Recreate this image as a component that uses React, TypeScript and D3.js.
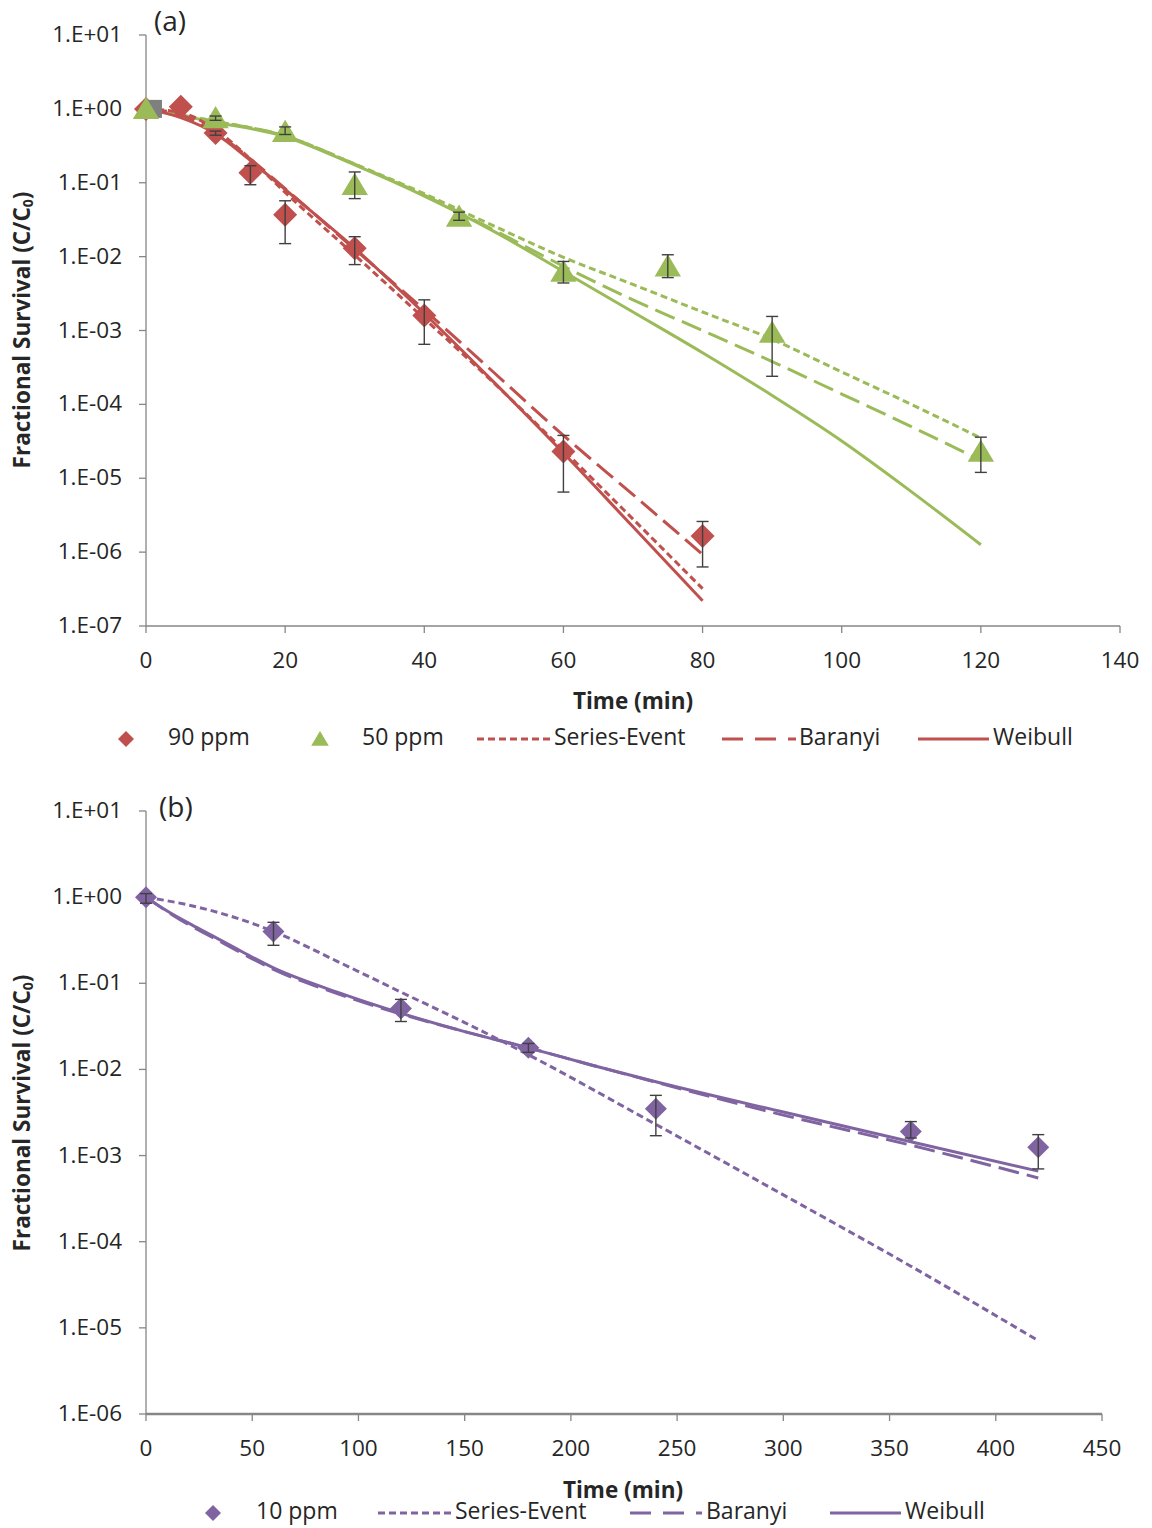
import React from "react";
import * as d3 from "d3";

// ---------- Panel (a) data ----------
const timeA90 = [0, 5, 10, 15, 20, 30, 40, 60, 80];
const surv90 = [1.0, 1.07, 0.47, 0.137, 0.037, 0.013, 0.0016, 2.3e-5, 1.65e-6];
const surv90Hi = [1.0, 1.07, 0.5, 0.17, 0.057, 0.0186, 0.0026, 3.8e-5, 2.6e-6];
const surv90Lo = [1.0, 1.07, 0.44, 0.094, 0.015, 0.0078, 6.5e-4, 6.5e-6, 6.3e-7];

const timeA50 = [0, 10, 20, 30, 45, 60, 75, 90, 120];
const surv50 = [1.0, 0.75, 0.49, 0.094, 0.035, 0.0063, 0.0074, 9.4e-4, 2.3e-5];
const surv50Hi = [1.0, 0.8, 0.57, 0.14, 0.04, 0.0086, 0.0106, 1.55e-3, 3.6e-5];
const surv50Lo = [1.0, 0.7, 0.45, 0.061, 0.031, 0.0044, 0.0052, 2.4e-4, 1.2e-5];

const refPointTime = [1];
const refPointSurv = [1.0];

const fitTime90 = [0, 5, 10, 15, 20, 30, 40, 50, 60, 70, 80];
const fit90Weibull = [1, 0.76, 0.46, 0.2, 0.081, 0.013, 1.7e-3, 2.0e-4, 2.2e-5, 2.2e-6, 2.2e-7];
const fit90SE = [1, 0.89, 0.52, 0.21, 0.074, 0.0105, 1.45e-3, 1.95e-4, 2.4e-5, 2.8e-6, 3.2e-7];
const fit90Baranyi = [1, 0.83, 0.48, 0.21, 0.083, 0.0126, 1.9e-3, 2.7e-4, 3.8e-5, 6.0e-6, 9.3e-7];

const fitTime50 = [0, 10, 20, 30, 40, 50, 60, 70, 80, 90, 100, 110, 120];
const fit50Weibull = [1, 0.66, 0.42, 0.174, 0.066, 0.022, 6.3e-3, 1.78e-3, 5.0e-4, 1.32e-4, 3.2e-5, 6.6e-6, 1.26e-6];
const fit50SE = [1, 0.68, 0.43, 0.18, 0.071, 0.026, 9.8e-3, 4.2e-3, 1.78e-3, 7.6e-4, 2.75e-4, 1.0e-4, 3.5e-5];
const fit50Baranyi = [1, 0.68, 0.43, 0.178, 0.068, 0.023, 7.4e-3, 2.6e-3, 1.0e-3, 3.8e-4, 1.38e-4, 5.0e-5, 1.74e-5];

const xTicksA = [0, 20, 40, 60, 80, 100, 120, 140];
const yTicksA = [1e1, 1e0, 1e-1, 1e-2, 1e-3, 1e-4, 1e-5, 1e-6, 1e-7];

// ---------- Panel (b) data ----------
const timeB10 = [0, 60, 120, 180, 240, 360, 420];
const surv10 = [1.0, 0.4, 0.051, 0.0178, 0.0035, 0.0019, 0.00125];
const surv10Hi = [1.1, 0.51, 0.065, 0.02, 0.005, 0.00248, 0.00175];
const surv10Lo = [0.85, 0.276, 0.036, 0.0158, 0.0017, 0.0016, 0.0007];

const fitTime10 = [0, 10, 20, 30, 45, 60, 90, 120, 150, 180, 210, 240, 300, 360, 420];
const fit10Weibull = [1, 0.69, 0.5, 0.37, 0.234, 0.151, 0.079, 0.045, 0.0275, 0.0178, 0.0112, 7.2e-3, 3.2e-3, 1.45e-3, 6.6e-4];
const fit10Baranyi = [1, 0.68, 0.48, 0.355, 0.224, 0.145, 0.076, 0.044, 0.0275, 0.0178, 0.0112, 7.1e-3, 2.95e-3, 1.32e-3, 5.5e-4];
const fitTime10SE = [0, 20, 40, 60, 90, 120, 150, 180, 240, 300, 360, 420];
const fit10SE = [1, 0.81, 0.6, 0.4, 0.18, 0.079, 0.035, 0.0148, 2.3e-3, 3.5e-4, 5.2e-5, 7.1e-6];

const xTicksB = [0, 50, 100, 150, 200, 250, 300, 350, 400, 450];
const yTicksB = [1e1, 1e0, 1e-1, 1e-2, 1e-3, 1e-4, 1e-5, 1e-6];

// ---------- styles ----------
const RED = "#C0504D";
const GREEN = "#9BBB59";
const PURPLE = "#8064A2";
const AXIS = "#868686";
const TEXT = "#262626";
const FONT = "'Open Sans', 'Noto Sans', sans-serif";
const DASH_SE = "7 4";
const DASH_BAR = "21 8";
const TICK_FS = 22.5;
const LEG_FS = 23;
const TITLE_FS = 22.5;

const fmtExp = (v: number) => {
  const e = Math.round(Math.log10(v));
  const sign = e < 0 ? "-" : "+";
  const a = Math.abs(e);
  return `1.E${sign}${a < 10 ? "0" + a : a}`;
};

type Pt = [number, number];
const zip = (xs: number[], ys: number[]): Pt[] => xs.map((x, i) => [x, ys[i]]);

function Diamond({ cx, cy, r, fill }: { cx: number; cy: number; r: number; fill: string }) {
  return <path d={`M${cx},${cy - r}L${cx + r},${cy}L${cx},${cy + r}L${cx - r},${cy}Z`} fill={fill} />;
}
function Triangle({ cx, cy, r, fill }: { cx: number; cy: number; r: number; fill: string }) {
  return <path d={`M${cx},${cy - r}L${cx + r * 1.1},${cy + r * 0.85}L${cx - r * 1.1},${cy + r * 0.85}Z`} fill={fill} />;
}

function ErrorBars({ xs, hi, lo, x, y }: any) {
  return (
    <g stroke="#404040" strokeWidth={1.4}>
      {xs.map((t: number, i: number) => {
        const y1 = y(hi[i]);
        const y2 = y(lo[i]);
        if (Math.abs(y1 - y2) < 3) return null;
        const cx = x(t);
        return (
          <g key={i}>
            <line x1={cx} x2={cx} y1={y1} y2={y2} />
            <line x1={cx - 6} x2={cx + 6} y1={y1} y2={y1} />
            <line x1={cx - 6} x2={cx + 6} y1={y2} y2={y2} />
          </g>
        );
      })}
    </g>
  );
}

function YTitle({ cx, cy }: { cx: number; cy: number }) {
  return (
    <text
      transform={`translate(${cx},${cy}) rotate(-90)`}
      textAnchor="middle"
      dominantBaseline="middle"
      fontFamily={FONT}
      fontWeight={700}
      fontSize={TITLE_FS}
      fill={TEXT}
    >
      Fractional Survival (C/C<tspan fontSize={14} dy={5}>0</tspan>
      <tspan dy={-5}>)</tspan>
    </text>
  );
}

function Axes({ x, y, xTicks, yTicks, xAxisWidth }: any) {
  const [x0, x1] = x.range();
  const [yb, yt] = y.range();
  return (
    <g>
      <line x1={x0} x2={x0} y1={yt} y2={yb} stroke={AXIS} strokeWidth={1.3} />
      <line x1={x0} x2={x1} y1={yb} y2={yb} stroke={AXIS} strokeWidth={xAxisWidth} />
      {yTicks.map((v: number) => (
        <g key={v}>
          <line x1={x0 - 7} x2={x0} y1={y(v)} y2={y(v)} stroke={AXIS} strokeWidth={1.3} />
          <text x={x0 - 24} y={y(v) + 1} textAnchor="end" dominantBaseline="middle" fontFamily={FONT} fontSize={TICK_FS} fill={TEXT}>
            {fmtExp(v)}
          </text>
        </g>
      ))}
      {xTicks.map((v: number) => (
        <g key={v}>
          <line x1={x(v)} x2={x(v)} y1={yb} y2={yb + 7} stroke={AXIS} strokeWidth={1.3} />
          <text x={x(v)} y={yb + 36} textAnchor="middle" dominantBaseline="middle" fontFamily={FONT} fontSize={TICK_FS} fill={TEXT}>
            {v}
          </text>
        </g>
      ))}
    </g>
  );
}

function LegendLine({ x1, x2, y, color, dash }: any) {
  return <line x1={x1} x2={x2} y1={y} y2={y} stroke={color} strokeWidth={3} strokeDasharray={dash} />;
}
function LegendText({ x, y, children }: any) {
  return (
    <text x={x} y={y} dominantBaseline="middle" fontFamily={FONT} fontSize={LEG_FS} fill={TEXT}>
      {children}
    </text>
  );
}

export default function App() {
  // Panel (a)
  const xA = d3.scaleLinear().domain([0, 140]).range([146, 1120]);
  const yA = d3.scaleLog().domain([1e-7, 10]).range([626, 35]);
  const lineA = d3
    .line<Pt>()
    .x((d) => xA(d[0]))
    .y((d) => yA(d[1]))
    .curve(d3.curveMonotoneX);

  // Panel (b)
  const xB = d3.scaleLinear().domain([0, 450]).range([146, 1102]);
  const yB = d3.scaleLog().domain([1e-6, 10]).range([1414, 811]);
  const lineB = d3
    .line<Pt>()
    .x((d) => xB(d[0]))
    .y((d) => yB(d[1]))
    .curve(d3.curveMonotoneX);

  const legA = 739;
  const legB = 1513;

  return (
    <svg width={1152} height={1528} style={{ position: "absolute", left: 0, top: 0, background: "#fff" }}>
      <rect width={1152} height={1528} fill="#fff" />

      {/* ---------------- Panel (a) ---------------- */}
      <Axes x={xA} y={yA} xTicks={xTicksA} yTicks={yTicksA} xAxisWidth={1.5} />
      <text x={154} y={31} fontFamily={FONT} fontSize={28} fill={TEXT}>(a)</text>
      <YTitle cx={24} cy={330} />
      <text x={633} y={703} textAnchor="middle" dominantBaseline="middle" fontFamily={FONT} fontWeight={700} fontSize={TITLE_FS} fill={TEXT}>
        Time (min)
      </text>

      <g fill="none" strokeWidth={3}>
        <path d={lineA(zip(fitTime50, fit50SE)) || ""} stroke={GREEN} strokeDasharray={DASH_SE} />
        <path d={lineA(zip(fitTime50, fit50Baranyi)) || ""} stroke={GREEN} strokeDasharray={DASH_BAR} />
        <path d={lineA(zip(fitTime50, fit50Weibull)) || ""} stroke={GREEN} />
        <path d={lineA(zip(fitTime90, fit90SE)) || ""} stroke={RED} strokeDasharray={DASH_SE} />
        <path d={lineA(zip(fitTime90, fit90Baranyi)) || ""} stroke={RED} strokeDasharray={DASH_BAR} />
        <path d={lineA(zip(fitTime90, fit90Weibull)) || ""} stroke={RED} />
      </g>

      {timeA90.map((t, i) => (
        <Diamond key={"r" + i} cx={xA(t)} cy={yA(surv90[i])} r={12} fill={RED} />
      ))}
      {refPointTime.map((t, i) => (
        <rect key={"g" + i} x={xA(t) - 9} y={yA(refPointSurv[i]) - 9} width={18} height={18} fill="#7F7F7F" />
      ))}
      {timeA50.map((t, i) => (
        <Triangle key={"t" + i} cx={xA(t)} cy={yA(surv50[i])} r={12} fill={GREEN} />
      ))}
      <ErrorBars xs={timeA90} hi={surv90Hi} lo={surv90Lo} x={xA} y={yA} />
      <ErrorBars xs={timeA50} hi={surv50Hi} lo={surv50Lo} x={xA} y={yA} />

      {/* legend (a) */}
      <Diamond cx={126} cy={legA} r={8} fill={RED} />
      <LegendText x={168} y={legA}>90 ppm</LegendText>
      <Triangle cx={320} cy={legA} r={8} fill={GREEN} />
      <LegendText x={362} y={legA}>50 ppm</LegendText>
      <LegendLine x1={477} x2={551} y={legA} color={RED} dash={DASH_SE} />
      <LegendText x={554} y={legA}>Series-Event</LegendText>
      <LegendLine x1={722} x2={796} y={legA} color={RED} dash="21 12" />
      <LegendText x={799} y={legA}>Baranyi</LegendText>
      <LegendLine x1={918} x2={989} y={legA} color={RED} />
      <LegendText x={993} y={legA}>Weibull</LegendText>

      {/* ---------------- Panel (b) ---------------- */}
      <Axes x={xB} y={yB} xTicks={xTicksB} yTicks={yTicksB} xAxisWidth={2.6} />
      <text x={159} y={817} fontFamily={FONT} fontSize={28} fill={TEXT}>(b)</text>
      <YTitle cx={24} cy={1113} />
      <text x={623} y={1492} textAnchor="middle" dominantBaseline="middle" fontFamily={FONT} fontWeight={700} fontSize={TITLE_FS} fill={TEXT}>
        Time (min)
      </text>

      <g fill="none" strokeWidth={3}>
        <path d={lineB(zip(fitTime10SE, fit10SE)) || ""} stroke={PURPLE} strokeDasharray={DASH_SE} />
        <path d={lineB(zip(fitTime10, fit10Baranyi)) || ""} stroke={PURPLE} strokeDasharray={DASH_BAR} />
        <path d={lineB(zip(fitTime10, fit10Weibull)) || ""} stroke={PURPLE} />
      </g>
      {timeB10.map((t, i) => (
        <Diamond key={"p" + i} cx={xB(t)} cy={yB(surv10[i])} r={11} fill={PURPLE} />
      ))}
      <ErrorBars xs={timeB10} hi={surv10Hi} lo={surv10Lo} x={xB} y={yB} />

      {/* legend (b) */}
      <Diamond cx={213} cy={legB} r={8} fill={PURPLE} />
      <LegendText x={256} y={legB}>10 ppm</LegendText>
      <LegendLine x1={378} x2={451} y={legB} color={PURPLE} dash={DASH_SE} />
      <LegendText x={455} y={legB}>Series-Event</LegendText>
      <LegendLine x1={630} x2={702} y={legB} color={PURPLE} dash="21 12" />
      <LegendText x={706} y={legB}>Baranyi</LegendText>
      <LegendLine x1={830} x2={901} y={legB} color={PURPLE} />
      <LegendText x={905} y={legB}>Weibull</LegendText>
    </svg>
  );
}
